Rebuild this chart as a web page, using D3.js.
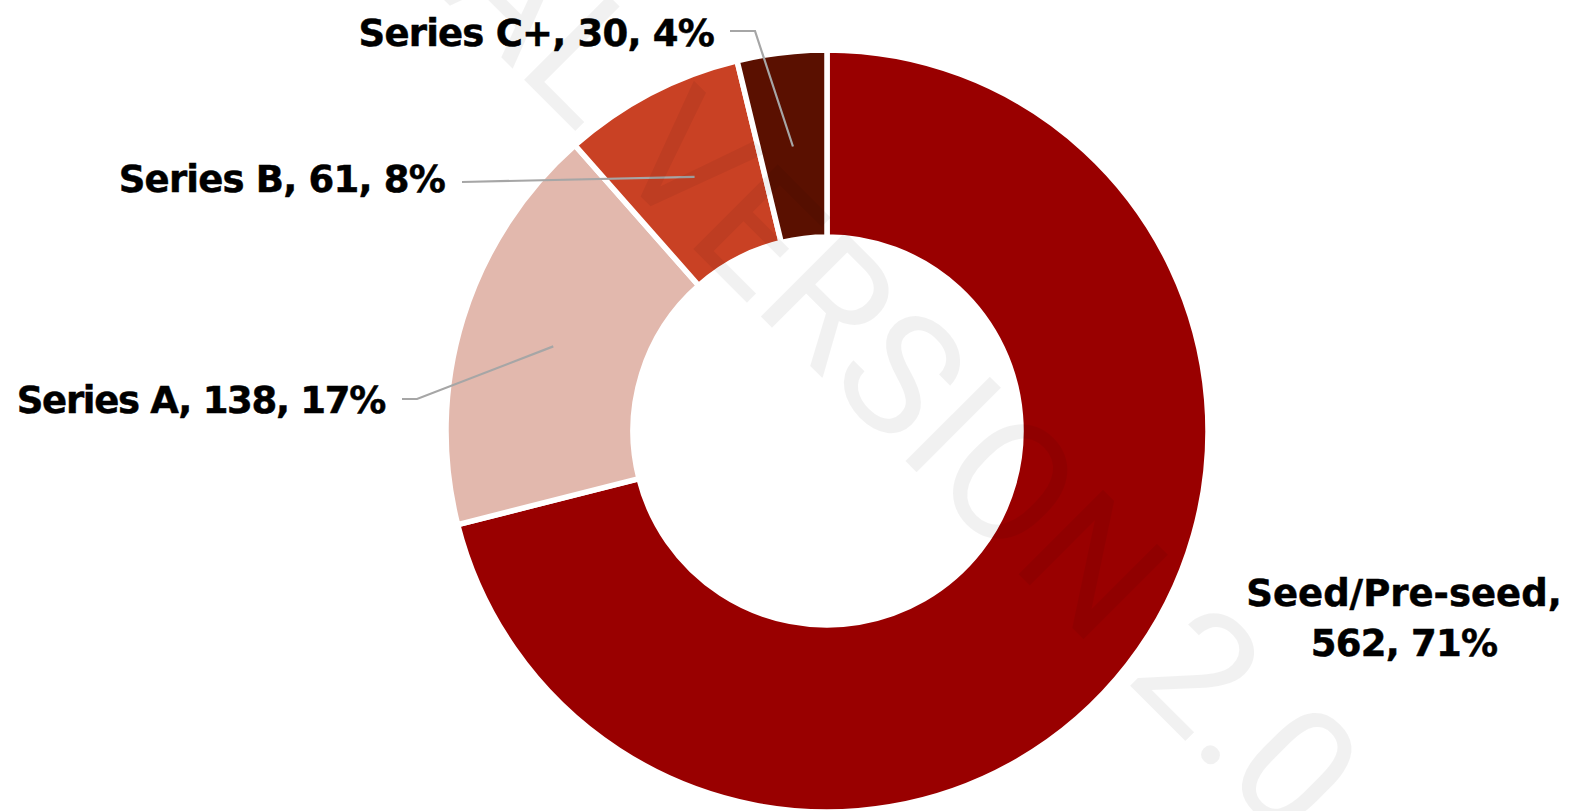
<!DOCTYPE html>
<html>
<head>
<meta charset="utf-8">
<script src="https://cdn.jsdelivr.net/npm/d3@7"></script>
<style>
  html, body { margin: 0; padding: 0; background: #ffffff; }
  svg { display: block; }
  .lbl { font-family: "DejaVu Sans", sans-serif; font-weight: bold; fill: #000; stroke: #000; stroke-width: 0.5; }
</style>
</head>
<body>
<svg id="chart" width="1575" height="811"></svg>
<script>
// Deals by funding stage
const categories = ["Seed/Pre-seed", "Series A", "Series B", "Series C+"];
const values = [562, 138, 61, 30];
const colors = ["#990000", "#e2b8ad", "#c94124", "#5a1000"];

const W = 1575, H = 811;
const cx = 827, cy = 431;
const outerR = 381, innerR = 194;

const svg = d3.select("#chart");
const total = d3.sum(values);
const pct = d3.format(".0%");

const pie = d3.pie().sort(null).value(d => d.value);
const arc = d3.arc().innerRadius(innerR).outerRadius(outerR);
const mid = d3.arc().innerRadius(innerR).outerRadius(379);

const data = categories.map((c, i) => ({ name: c, value: values[i], color: colors[i] }));
const arcs = pie(data);

const g = svg.append("g").attr("transform", `translate(${cx},${cy})`);

g.selectAll("path.slice")
  .data(arcs)
  .join("path")
  .attr("class", "slice")
  .attr("d", arc)
  .attr("fill", d => d.data.color)
  .attr("stroke", "#ffffff")
  .attr("stroke-width", 5.5)
  .attr("stroke-linejoin", "miter");

// label placement: anchor point and elbow for leader lines (screen coords)
const labelLayout = {
  "Series C+": { x: 714, y: 46, anchor: "end", line: [[730, 31], [755, 31]] },
  "Series B":  { x: 445, y: 192, anchor: "end", line: [[462, 182]] },
  "Series A":  { x: 385, y: 413, anchor: "end", line: [[402, 399], [417, 399]] },
  "Seed/Pre-seed": { x: 1404, y: 606, anchor: "middle", twoLine: true, lh: 50 }
};

const fs = 37;
const lines = svg.append("g");
const labels = svg.append("g");

arcs.forEach(a => {
  const L = labelLayout[a.data.name];
  const [mx, my] = mid.centroid(a);
  const valTxt = `${a.data.value}, ${pct(a.data.value / total)}`;
  if (L.line) {
    const pts = L.line.concat([[cx + mx, cy + my]]);
    lines.append("path")
      .attr("d", d3.line()(pts))
      .attr("fill", "none")
      .attr("stroke", "#a6a6a6")
      .attr("stroke-width", 2.2);
  }
  const t = labels.append("text")
    .attr("class", "lbl")
    .attr("font-size", fs)
    .attr("letter-spacing", a.data.name === "Series A" ? -1.3 : -0.8)
    .attr("text-anchor", L.anchor)
    .attr("x", L.x)
    .attr("y", L.y);
  if (L.twoLine) {
    t.append("tspan").attr("x", L.x).attr("letter-spacing", 0).text(`${a.data.name},`);
    t.append("tspan").attr("x", L.x).attr("dy", L.lh).text(valTxt);
  } else {
    t.text(`${a.data.name}, ${valTxt}`);
  }
});

// faint diagonal watermark across the chart
svg.append("text")
  .attr("transform", "translate(805,298) rotate(45)")
  .attr("text-anchor", "middle")
  .attr("dominant-baseline", "middle")
  .attr("font-family", "Roboto, sans-serif")
  .attr("font-weight", 400)
  .attr("font-size", 168)
  .attr("fill", "rgba(0,0,0,0.055)")
  .text("TRIAL VERSION 2.0");
</script>
</body>
</html>
